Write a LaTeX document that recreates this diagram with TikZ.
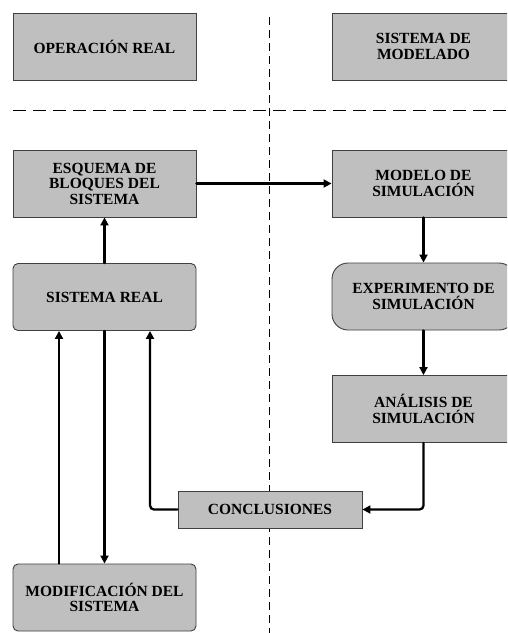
\documentclass[tikz,border=0pt]{standalone}
\usepackage{fontspec}
\setmainfont{Liberation Serif}
\usetikzlibrary{arrows.meta}
\begin{document}
\begin{tikzpicture}[x=1pt,y=-1pt,
  box/.style={draw=black!75,line width=0.9pt,fill=gray!50,minimum width=183pt,minimum height=67pt,
    align=center,inner sep=2pt,font=\bfseries\fontsize{15.5}{15.5}\selectfont},
  rbox/.style={box,rounded corners=5pt},
  conn/.style={line width=2.3pt,line cap=round,rounded corners=4pt},
  arr/.style={conn,-{Triangle[length=8pt,width=8pt]}},
  sep/.style={line width=0.9pt,dash pattern=on 8pt off 5pt}]
\useasboundingbox (0,0) rectangle (507,633);
\clip (0,0) rectangle (507,633);
\fill[white] (0,0) rectangle (507,633);

% separators
\coordinate (vtop) at (269.5,17);
\coordinate (vbot) at (269.5,640);
\coordinate (hl) at (13,110);
\coordinate (hr) at (510,110);
\draw[sep] (vtop) -- (vbot);
\draw[sep,dash pattern=on 13pt off 7pt] (hl) -- (hr);

% headers
\node[box] (op) at (104.5,46.5) {OPERACIÓN REAL};
\node[box] (sm) at (423.5,46.5) {SISTEMA DE\\MODELADO};

% left column
\node[box] (esq) at (104.5,183.5) {ESQUEMA DE\\BLOQUES DEL\\SISTEMA};
\node[rbox] (sr) at (104.5,297) {SISTEMA REAL};
\node[rbox] (modif) at (104.5,597.5) {MODIFICACIÓN DEL\\SISTEMA};

% right column
\node[box] (mod) at (423.5,183.5) {MODELO DE\\SIMULACIÓN};
\node[box,rounded corners=16pt] (exp) at (423.5,296.5) {EXPERIMENTO DE\\SIMULACIÓN};
\node[box] (an) at (423.5,409) {ANÁLISIS DE\\SIMULACIÓN};

% conclusions
\node[box,minimum width=184pt,minimum height=37pt] (con) at (270,509.5) {CONCLUSIONES};

% connectors
\draw[arr] (sr.north) -- (esq.south);
\draw[arr] (esq.east) -- (mod.west);
\draw[arr] (mod.south) -- (exp.north);
\draw[arr] (exp.south) -- (an.north);
\draw[arr] (an.south) |- (con.east);
\draw[arr] (con.west) -| ([xshift=45.5pt]sr.south);
\draw[arr] ([xshift=-45.5pt]modif.north) -- ([xshift=-45.5pt]sr.south);
\draw[arr] (sr.south) -- (modif.north);
\end{tikzpicture}
\end{document}
